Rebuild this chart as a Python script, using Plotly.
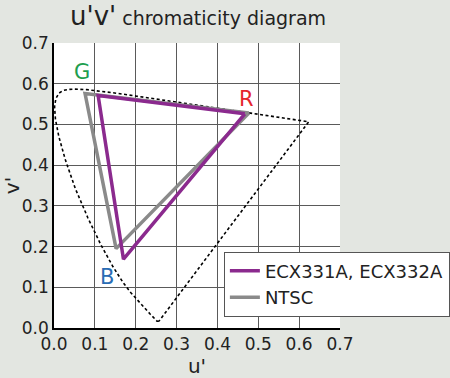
import plotly.graph_objects as go

# CIE 1976 spectral locus (u', v'), 380 nm -> 700 nm, closed with the purple line
locus_u = [0.2568, 0.2522, 0.2347, 0.2161, 0.1877, 0.1690, 0.1441, 0.1147, 0.0828,
           0.0521, 0.0282, 0.0119, 0.0035, 0.0014, 0.0046, 0.0123, 0.0231, 0.0360,
           0.0501, 0.0792, 0.1127, 0.1531, 0.2026, 0.2623, 0.3315, 0.4035, 0.5203,
           0.5830, 0.6234, 0.2568]
locus_v = [0.0166, 0.0169, 0.0350, 0.0549, 0.0871, 0.1119, 0.1510, 0.2044, 0.2708,
           0.3427, 0.4117, 0.4698, 0.5131, 0.5432, 0.5638, 0.5770, 0.5837, 0.5861,
           0.5868, 0.5856, 0.5821, 0.5766, 0.5694, 0.5604, 0.5501, 0.5393, 0.5219,
           0.5125, 0.5065, 0.0166]

# Gamut triangles (R, G, B, back to R)
ecx_u = [0.467, 0.108, 0.170, 0.467]
ecx_v = [0.526, 0.571, 0.169, 0.526]
ntsc_u = [0.477, 0.076, 0.152, 0.477]
ntsc_v = [0.528, 0.576, 0.195, 0.528]

# Primary labels
label_text = ["G", "R", "B"]
label_u = [0.068, 0.472, 0.129]
label_v = [0.630, 0.562, 0.126]
label_color = ["#1e9e4f", "#e5252c", "#2a6cb4"]

tick_vals = [0.0, 0.1, 0.2, 0.3, 0.4, 0.5, 0.6, 0.7]
tick_text = ["0.0", "0.1", "0.2", "0.3", "0.4", "0.5", "0.6", "0.7"]

FONT = "DejaVu Sans"

fig = go.Figure()
fig.add_trace(go.Scatter(x=locus_u, y=locus_v, mode="lines", showlegend=False,
                         line=dict(color="black", width=1.6, dash="3px,2.5px"),
                         hoverinfo="skip"))
fig.add_trace(go.Scatter(x=ntsc_u, y=ntsc_v, mode="lines", name="NTSC",
                         legendrank=2,
                         line=dict(color="#8a8a8a", width=3.5)))
fig.add_trace(go.Scatter(x=ecx_u, y=ecx_v, mode="lines", name="ECX331A, ECX332A",
                         legendrank=1,
                         line=dict(color="#8b2a8e", width=3.5)))

for t, u, v, c in zip(label_text, label_u, label_v, label_color):
    fig.add_annotation(x=u, y=v, text=t, showarrow=False,
                       font=dict(family=FONT, size=21, color=c))

fig.add_annotation(xref="paper", yref="paper", x=0.049, y=1.035,
                   xanchor="left", yanchor="bottom", showarrow=False,
                   text="<span style='font-size:26px'>u'v'</span> chromaticity diagram",
                   font=dict(family=FONT, size=19, color="#222"))

axis_common = dict(range=[0, 0.7], tickvals=tick_vals, ticktext=tick_text,
                   showgrid=True, gridcolor="#5a5a5a", gridwidth=1,
                   showline=True, linecolor="black", linewidth=1.5,
                   mirror=False, zeroline=False, ticks="",
                   tickfont=dict(family=FONT, size=17, color="#222"),
                   fixedrange=True, automargin=False)

fig.update_xaxes(**axis_common, title=dict(text="u'", standoff=4,
                 font=dict(family=FONT, size=20, color="#222")))
fig.update_yaxes(**axis_common, title=dict(text="v'", standoff=6,
                 font=dict(family=FONT, size=20, color="#222")))

fig.update_layout(
    width=450, height=378,
    margin=dict(l=54, r=110, t=43, b=50, autoexpand=False),
    paper_bgcolor="#e3e6e1",
    plot_bgcolor="white",
    font=dict(family=FONT, color="#222"),
    legend=dict(x=0.594, y=0.268, xanchor="left", yanchor="top",
                bgcolor="white", bordercolor="#555", borderwidth=1,
                font=dict(family=FONT, size=18, color="#222"),
                tracegroupgap=0, itemwidth=30),
)

fig.write_html("out.html")
